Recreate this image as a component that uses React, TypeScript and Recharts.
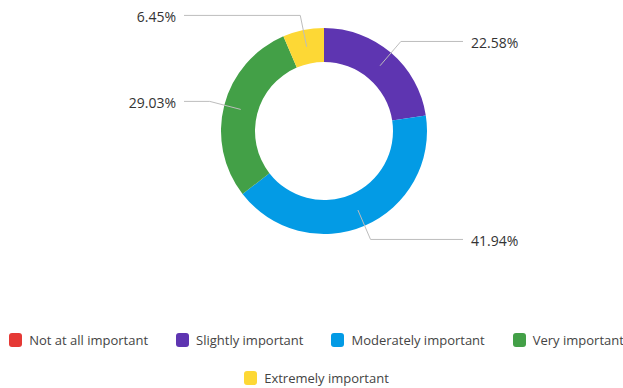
import React from "react";
import { PieChart, Pie, Cell, Legend } from "recharts";

const categories = [
  "Not at all important",
  "Slightly important",
  "Moderately important",
  "Very important",
  "Extremely important",
];
const percentages = [0, 22.58, 41.94, 29.03, 6.45];
const colors = ["#E53935", "#5E35B1", "#039BE5", "#43A047", "#FDD835"];

const data = categories.map((name, i) => ({ name, value: percentages[i] }));

const FONT = "'Open Sans', 'Noto Sans', sans-serif";
const RADIAN = Math.PI / 180;

const renderLabel = (props: any) => {
  const { cx, cy, midAngle, innerRadius, outerRadius, value, index } = props;
  if (!value) return null;
  const rMid = (innerRadius + outerRadius) / 2;
  const rElbow = outerRadius + 15;
  const cos = Math.cos(-midAngle * RADIAN);
  const sin = Math.sin(-midAngle * RADIAN);
  const x0 = cx + rMid * cos;
  const y0 = cy + rMid * sin;
  const x1 = cx + rElbow * cos;
  const y1 = cy + rElbow * sin;
  const right = cos >= 0;
  const x2 = right ? cx + 139 : cx - 140;
  const tx = right ? x2 + 8 : x2 - 8;
  return (
    <g key={`lbl-${index}`}>
      <polyline
        points={`${x0},${y0} ${x1},${y1} ${x2},${y1}`}
        fill="none"
        stroke="#bdbdbd"
        strokeWidth={1}
      />
      <text
        x={tx}
        y={y1 + 1}
        textAnchor={right ? "start" : "end"}
        dominantBaseline="central"
        fill="#333333"
        fontSize={14}
        fontFamily={FONT}
      >
        {`${value.toFixed(2)}%`}
      </text>
    </g>
  );
};

const renderLegend = () => {
  const rows = [categories.slice(0, 4), categories.slice(4)];
  return (
    <div style={{ width: 623, paddingLeft: 10, boxSizing: "border-box", fontFamily: FONT }}>
      {rows.map((row, ri) => (
        <div
          key={ri}
          style={{
            display: "flex",
            justifyContent: "center",
            columnGap: 28,
            height: 38,
            alignItems: "center",
          }}
        >
          {row.map((name) => {
            const i = categories.indexOf(name);
            return (
              <div key={name} style={{ display: "flex", alignItems: "center", whiteSpace: "nowrap" }}>
                <span
                  style={{
                    display: "inline-block",
                    width: 13,
                    height: 14,
                    borderRadius: 3,
                    background: colors[i],
                    marginRight: 7,
                  }}
                />
                <span style={{ fontSize: 13, color: "#444444" }}>{name}</span>
              </div>
            );
          })}
        </div>
      ))}
    </div>
  );
};

export default function App() {
  return (
    <div style={{ position: "absolute", left: 0, top: 0, width: 623, height: 388, background: "#ffffff" }}>
      <PieChart width={623} height={388} margin={{ top: 0, right: 0, bottom: 0, left: 0 }}>
        <Pie
          data={data}
          dataKey="value"
          nameKey="name"
          cx={324}
          cy={131}
          innerRadius={69}
          outerRadius={103}
          startAngle={90}
          endAngle={-270}
          stroke="none"
          label={renderLabel}
          labelLine={false}
          isAnimationActive={false}
        >
          {data.map((d, i) => (
            <Cell key={d.name} fill={colors[i]} />
          ))}
        </Pie>
        <Legend
          content={renderLegend}
          wrapperStyle={{ position: "absolute", left: 0, top: 321, width: 623 }}
        />
      </PieChart>
    </div>
  );
}
